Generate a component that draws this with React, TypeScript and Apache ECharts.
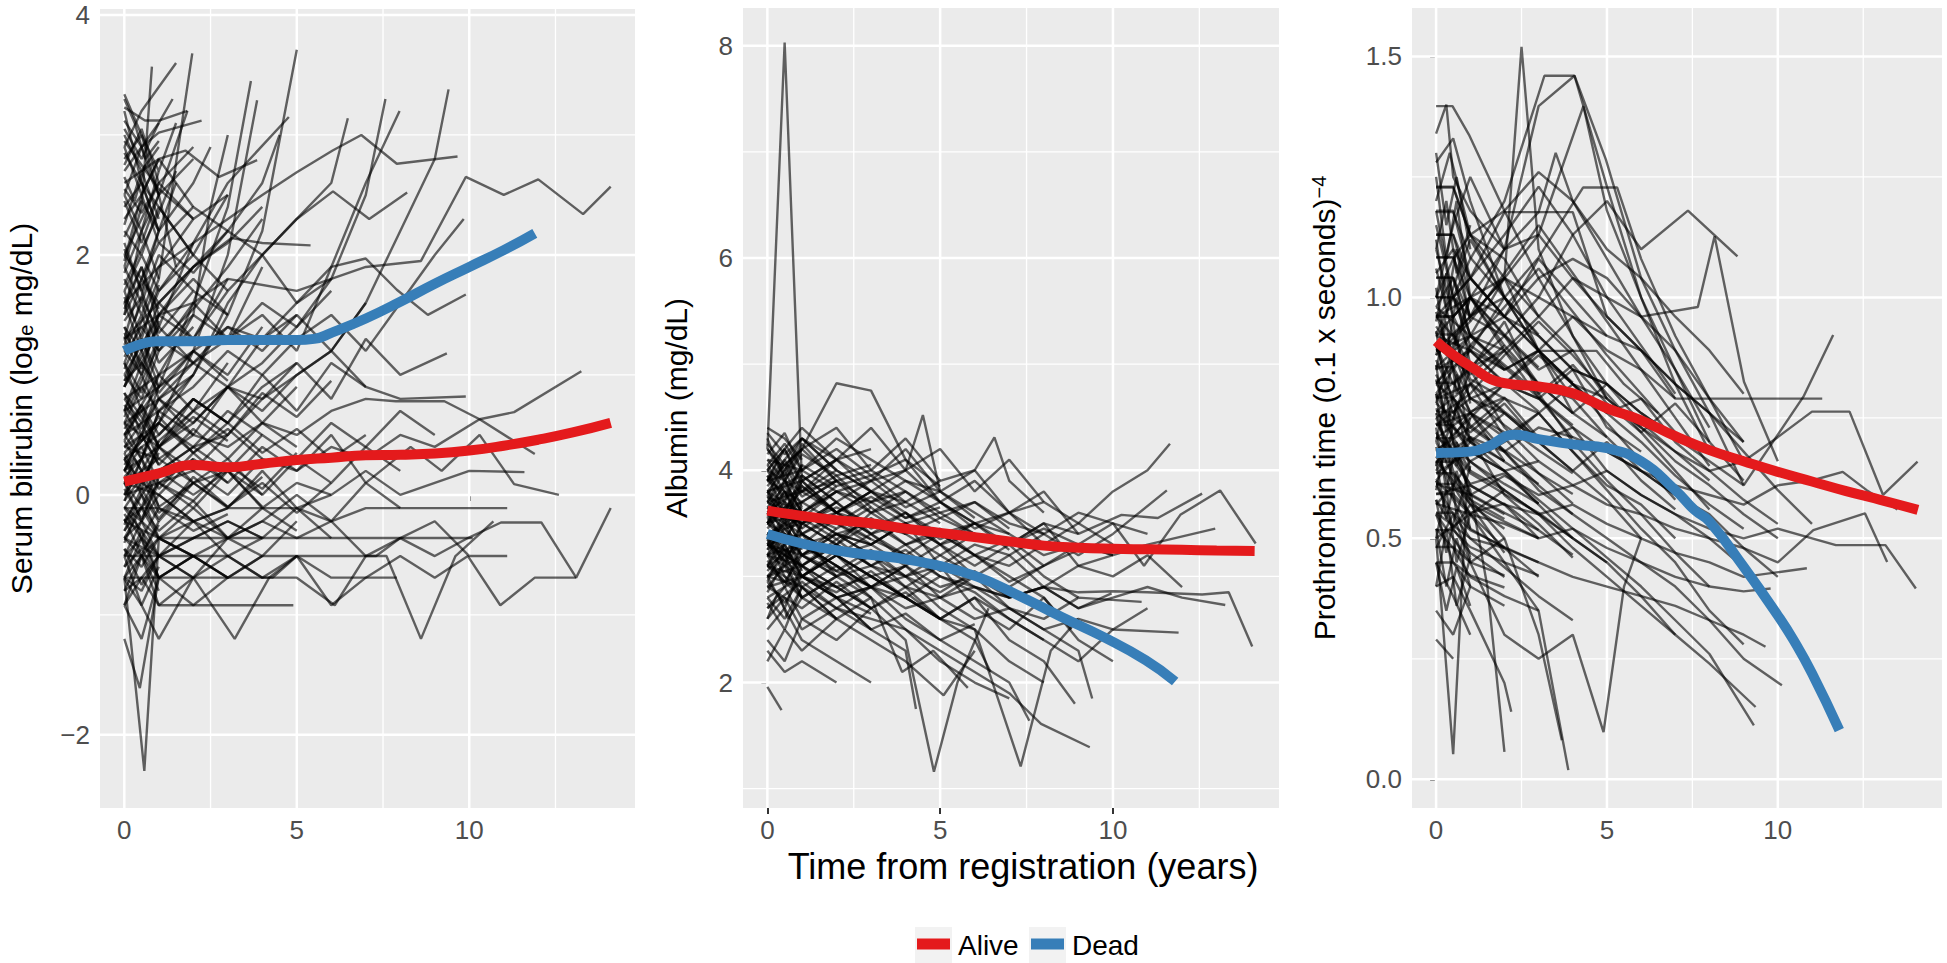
import React, { useEffect, useRef } from 'react';
import * as echarts from 'echarts';

// ---------- axes ----------
const X_MIN = -0.705;
const X_MAX = 14.805;
const X_TICKS = [0, 5, 10];
const X_MINOR = [2.5, 7.5, 12.5];

const BILI_RANGE = [-2.61, 4.05];
const BILI_TICKS = [-2, 0, 2, 4];
const BILI_MINOR = [-1, 1, 3];

const ALB_RANGE = [0.818, 8.355];
const ALB_TICKS = [2, 4, 6, 8];
const ALB_MINOR = [1, 3, 5, 7];

const PRO_RANGE = [-0.0596, 1.6006];
const PRO_TICKS = [0, 0.5, 1.0, 1.5];
const PRO_MINOR = [0.25, 0.75, 1.25];

const LEGEND_LABELS = ['Alive', 'Dead'];

// ---------- smoothed group curves [t, value] ----------
const BILI_ALIVE = [[0, 0.11], [1, 0.18], [2, 0.25], [3, 0.23], [4, 0.26], [5, 0.29], [6, 0.31], [7, 0.33], [8, 0.335], [9, 0.345], [10, 0.37], [11, 0.41], [12, 0.46], [13, 0.52], [14.1, 0.6]];
const BILI_DEAD = [[0, 1.2], [1, 1.28], [2, 1.28], [3, 1.29], [4, 1.29], [5, 1.29], [5.5, 1.3], [6, 1.35], [7, 1.47], [8, 1.61], [9, 1.76], [10, 1.9], [11, 2.04], [11.9, 2.18]];

const ALB_ALIVE = [[0, 3.62], [1, 3.57], [2, 3.53], [3, 3.5], [4, 3.45], [5, 3.41], [6, 3.37], [7, 3.33], [8, 3.29], [9, 3.27], [10, 3.26], [11, 3.255], [12, 3.25], [13, 3.245], [14.1, 3.24]];
const ALB_DEAD = [[0, 3.4], [1, 3.31], [1.76, 3.26], [2.5, 3.22], [3.6, 3.18], [4.82, 3.11], [6.05, 3.0], [7.27, 2.82], [8.5, 2.62], [9.72, 2.43], [10.95, 2.21], [11.8, 2.01]];

const PRO_ALIVE = [[0, 0.909], [1, 0.857], [2, 0.822], [3, 0.815], [4, 0.801], [5, 0.77], [6, 0.745], [7, 0.712], [8, 0.683], [9, 0.66], [10, 0.638], [11, 0.618], [12, 0.598], [13, 0.58], [14.1, 0.559]];
const PRO_DEAD = [[0, 0.677], [1, 0.68], [1.5, 0.69], [2.3, 0.715], [3, 0.706], [4, 0.695], [5, 0.687], [6, 0.66], [7, 0.6], [7.56, 0.559], [8, 0.535], [9, 0.441], [10, 0.34], [10.46, 0.289], [11, 0.22], [11.8, 0.102]];

// ---------- individual trajectories: flat [t0, v0, t1, v1, ...] ----------
const BILI_LINES = [
  [0, -0.69, 0.5, -0.69, 1, -0.69, 2, -0.69, 3, -0.69, 4.3, -0.69, 5, -0.51, 6, -0.92, 7, -0.69, 7.9, -0.69],
  [0, -0.36, 0.5, -0.51, 1, -0.36, 2, -0.36, 3, -0.36, 4, -0.36, 5, -0.36, 6, -0.36, 7, -0.36, 8, -0.36, 9, -0.36, 10.1, -0.36],
  [0, -0.51, 1, -0.51, 2, -0.51, 3, -0.69, 4, -0.51, 5, -0.51, 6, -0.51, 7.3, -0.51, 8, -0.36, 9, -0.22, 10, -0.51, 11.1, -0.51],
  [0, -0.11, 1, -0.11, 2, -0.22, 3, -0.11, 4, -0.11, 5, -0.11, 6, -0.22, 7, -0.11, 8, -0.11, 9, -0.11, 10, -0.11, 11.1, -0.11],
  [0, 0.1, 1, 0.0, 2, -0.22, 3, -0.36, 4, -0.22, 5, -0.36, 6, -0.22, 7, -0.51, 8, -0.36, 9, -0.51, 9.96, -0.36, 10.92, -0.23, 12.09, -0.23, 13.1, -0.69, 14.1, -0.11],
  [0, -0.22, 1, -0.36, 2, -0.51, 3, -0.51, 4, -0.69, 5, -0.51, 6, -0.69, 7, -0.69, 8, -0.51, 9, -0.69, 9.96, -0.51, 10.9, -0.92, 11.9, -0.69, 13.1, -0.69],
  [0, -0.51, 0.5, -0.92, 1, -1.2, 2, -0.69, 3.2, -1.2, 4.2, -0.69, 5, -0.51],
  [0, -0.36, 1, -0.51, 2, -0.69, 3, -0.51, 4, -0.69, 5, -0.69, 6.1, -0.92, 7, -0.51, 7.6, -0.51, 8.6, -1.2, 9.6, -0.51, 10.7, -0.22],
  [0, -1.2, 0.45, -1.61, 1, -0.69],
  [0, -0.69, 0.58, -2.3, 1, -0.36, 2, -0.51],
  [0, -0.92, 0.5, -0.51, 1, -0.92, 2, -0.92, 3, -0.92, 4.9, -0.92],
  [0, 0.4, 1, 0.3, 2, 0.5, 3, 0.4, 4, 0.6, 5, 0.5, 6, 0.7, 7, 0.8, 7.87, 0.78, 9.28, 0.78, 10.3, 0.63, 11.3, 0.69, 13.25, 1.03],
  [0, 0.0, 1, 0.1, 2, 0.2, 3, 0.0, 4, 0.3, 5, 0.2, 6, 0.4, 7, 0.3, 8, 0.5, 9, 0.4, 10.3, 0.63, 11.9, 0.34],
  [0, 0.2, 1, 0.0, 2, 0.3, 3, 0.1, 4, 0.4, 5, 0.2, 6, 0.5, 7, 0.1, 8.3, 0.4, 9.2, 0.2, 10.3, 0.5, 11.3, 0.09, 12.6, 0.0],
  [0, 0.1, 1, 0.3, 2, 0.1, 3, 0.2, 4, -0.11, 5, 0.1, 6, 0.0, 7, 0.2, 8, 0.0, 9, 0.1, 10, 0.2, 11.6, 0.19],
  [0, 0.5, 1, 0.9, 2, 1.6, 3, 2.4, 3.67, 3.45],
  [0, 0.3, 1, 0.6, 2, 1.2, 3, 2.0, 3.85, 3.29],
  [0, 0.9, 1, 1.4, 2, 2.1, 3, 2.6, 4.77, 3.15],
  [0, 1.1, 1, 1.8, 1.97, 3.68],
  [0, 1.9, 0.5, 2.4, 0.8, 3.57],
  [0, 1.5, 0.5, 2.2, 1, 2.5, 1.83, 3.2],
  [0, 0.6, 1, 0.8, 2, 1.0, 3, 1.5, 4, 2.2, 5, 3.71],
  [0, 0.2, 1, 0.4, 2, 0.6, 3, 0.9, 4, 1.1, 5, 1.4, 6, 1.8, 7, 2.5, 7.57, 3.3],
  [0, 0.7, 1, 0.9, 2, 1.1, 3, 1.3, 4, 1.5, 5, 1.2, 6, 1.9, 7, 2.6, 7.98, 3.2],
  [0, 0.1, 1, 0.2, 2, 0.4, 3, 0.5, 4, 0.8, 5, 1.0, 6, 1.2, 7, 1.6, 8, 2.2, 9, 2.8, 9.4, 3.38],
  [0, 0.4, 1, 0.6, 2, 1.0, 3, 1.6, 4, 2.0, 5, 2.3, 6, 2.6, 6.48, 3.14],
  [0, 1.6, 1, 1.9, 2, 2.1, 3, 2.3, 4, 2.5, 5, 2.69, 6.04, 2.87, 6.87, 3.0, 7.9, 2.76, 9.66, 2.82],
  [0, 1.3, 1, 1.5, 2, 1.6, 3, 1.8, 5, 1.7, 7, 1.9, 8.6, 1.95, 9.9, 2.65, 11, 2.5, 12, 2.63, 13.3, 2.34, 14.1, 2.57],
  [0, 3.34, 0.5, 3.0, 1, 2.5, 1.5, 1.9],
  [0, 3.23, 0.6, 3.12, 1.0, 3.12, 1.83, 3.2],
  [0, 3.12, 0.5, 2.9, 1.0, 3.02, 2.24, 3.12],
  [0, 2.85, 0.5, 2.6, 1, 2.4, 2, 2.0, 3, 1.7],
  [0, 2.6, 0.5, 2.7, 1, 2.8, 1.77, 2.87, 2.75, 2.65, 3.85, 2.79],
  [0, 1.0, 1, 1.5, 2, 1.9, 3.1, 2.14, 4, 2.1, 5.4, 2.08],
  [0, 1.3, 1, 1.6, 2, 1.9, 3, 2.2, 4, 2.0, 5, 2.3, 6.05, 2.53, 7.1, 2.3, 8.2, 2.52],
  [0, 0.8, 1, 1.0, 2, 1.2, 3, 1.4, 4, 1.3, 5, 1.6, 6, 1.9, 7, 1.97, 7.9, 1.71, 8.8, 1.5, 9.9, 1.67],
  [0, 0.5, 1, 0.7, 2, 0.9, 3, 1.2, 4, 1.0, 5, 1.3, 6, 1.5, 7, 1.2, 8, 1.6, 9, 2.0, 9.84, 2.3],
  [0, 0.3, 1, 0.5, 2, 0.8, 3, 0.6, 4, 0.9, 5, 1.1, 6, 0.8, 7, 1.3, 8, 1.0, 9.35, 1.18],
  [0, 0.6, 1, 0.4, 2, 0.7, 3, 0.9, 4, 0.7, 5, 1.0, 6, 1.2, 7, 0.9, 8, 0.8, 9.9, 0.82],
  [0, 2.4, 0.5, 2.6, 1, 2.2],
  [0, 2.0, 0.5, 2.3, 1, 2.6, 2, 2.9],
  [0, 1.8, 0.5, 1.5, 1, 1.9, 2, 2.3],
  [0, 1.6, 0.5, 1.9, 1, 1.4],
  [0, 1.4, 0.5, 1.2, 1, 1.6, 2, 1.3, 3, 1.8],
  [0, 1.2, 0.5, 1.5, 1, 1.1, 2, 1.4],
  [0, 1.0, 0.5, 0.8, 1, 1.2, 2, 1.6, 3, 1.3, 4, 1.9],
  [0, 0.9, 0.5, 1.3, 1, 0.9],
  [0, 0.8, 0.5, 0.6, 1, 1.0, 2, 0.7, 3, 1.1],
  [0, 0.6, 0.5, 0.9, 1, 0.7, 2, 1.0],
  [0, 0.5, 0.5, 0.3, 1, 0.6, 2, 0.4, 3, 0.7, 4, 0.5],
  [0, 0.4, 0.5, 0.6, 1, 0.3],
  [0, 0.3, 0.5, 0.1, 1, 0.4, 2, 0.2, 3, 0.5],
  [0, 0.2, 0.5, 0.4, 1, 0.1, 2, 0.3],
  [0, 0.1, 0.5, -0.1, 1, 0.2, 2, 0.0, 3, 0.2, 4, -0.1],
  [0, 0.0, 0.5, 0.2, 1, -0.1, 2, 0.1],
  [0, -0.1, 0.5, -0.22, 1, 0.0, 2, -0.22, 3, -0.11],
  [0, -0.22, 0.5, -0.11, 1, -0.36, 2, -0.22],
  [0, -0.36, 0.5, -0.22, 1, -0.51, 2, -0.36, 3, -0.22, 4, -0.36],
  [0, -0.51, 0.5, -0.36, 1, -0.69, 2, -0.51],
  [0, -0.69, 0.5, -0.51, 1, -0.69, 2, -0.92, 3, -0.69],
  [0, -0.92, 0.5, -0.69, 1, -0.51],
  [0, 2.7, 0.5, 2.9, 1, 2.5, 2, 2.8],
  [0, 3.0, 0.5, 2.7, 1, 2.9],
  [0, 2.2, 0.5, 2.0, 1, 2.4, 2, 2.0, 3, 2.5],
  [0, 1.7, 0.5, 2.0, 1, 1.7, 2, 2.1],
  [0, 2.5, 0.5, 2.2, 1, 2.7],
  [0, 1.3, 0.5, 1.0, 1, 1.5, 2, 1.8, 3, 1.5],
  [0, 0.7, 0.5, 1.1, 1, 1.4, 2, 1.1],
  [0, 0.0, 0.5, 0.3, 1, 0.7, 2, 0.5, 3, 0.9, 4, 0.6, 5, 0.9],
  [0, -0.11, 0.5, 0.1, 1, 0.4, 2, 0.8, 3, 0.6, 4, 1.0, 5, 0.7, 6, 1.1, 7, 0.9],
  [0, 0.2, 0.5, 0.5, 1, 0.8, 2, 1.1, 3, 0.9, 4, 1.3, 5, 1.5, 6, 1.2, 7, 1.6],
  [0, 0.9, 0.5, 1.2, 1, 1.5, 2, 1.3, 3, 1.7, 4, 2.0, 5, 1.6, 6, 1.8],
  [0, -0.22, 0.5, 0.0, 1, 0.2, 2, 0.4, 3, 0.2, 4, 0.5, 5, 0.3, 6, 0.6, 7, 0.4, 8, 0.7, 9, 0.5],
  [0, -0.36, 0.5, -0.11, 1, 0.1, 2, -0.11, 3, 0.2, 4, 0.0, 5, 0.3, 6, 0.1, 7, 0.4, 8, 0.2],
  [0, 0.3, 0.5, 0.0, 1, -0.22, 2, 0.1, 3, -0.11, 4, 0.2, 5, -0.11, 6, 0.0],
  [0, -0.51, 0.5, -0.22, 1, -0.36, 2, -0.11, 3, -0.36, 4, -0.22, 5, 0.0, 6, -0.22, 7, 0.1, 8, -0.11],
  [0, -0.69, 0.5, -0.36, 1, -0.51, 2, -0.22, 3, -0.51, 4, -0.36, 5, -0.11, 6, -0.36],
  [0, 1.1, 0.5, 0.7, 1, 0.4, 2, 0.1, 3, 0.3, 4, 0.0],
  [0, 1.6, 0.5, 1.2, 1, 0.8, 2, 0.5],
  [0, 2.1, 0.5, 1.7, 1, 1.3],
  [0, -0.92, 0.5, -1.2, 1, -0.69, 2, -0.51, 3, -0.69],
  [0, 2.9, 0.5, 3.2, 1, 3.4, 1.5, 3.6],
  [0, 0.5, 1, 1.0, 2, 1.5, 2.5, 2.4, 3, 3.0],
  [0, 2.3, 0.5, 2.5, 1, 2.1, 2, 2.4, 3, 2.2],
  [0, 1.9, 0.5, 1.6, 1, 2.0, 2, 1.7],
  [0, 1.5, 0.5, 1.8, 1, 1.6, 2, 1.9, 3, 2.1, 4, 2.4],
  [0, 1.2, 0.5, 1.0, 1, 1.3, 2, 1.1, 3, 1.4, 4, 1.2, 5, 1.5],
  [0, 0.95, 0.5, 1.1, 1, 0.85, 2, 1.2, 3, 1.0, 4, 1.4],
  [0, 0.75, 0.5, 0.55, 1, 0.8, 2, 0.6, 3, 0.9, 4, 0.8, 5, 1.1],
  [0, 0.55, 0.5, 0.75, 1, 0.5, 2, 0.8, 3, 0.6],
  [0, 0.35, 0.5, 0.5, 1, 0.25, 2, 0.55, 3, 0.3, 4, 0.6, 5, 0.4],
  [0, 0.15, 0.5, 0.3, 1, 0.05, 2, 0.35, 3, 0.1],
  [0, -0.05, 0.5, 0.15, 1, -0.15, 2, 0.1, 3, -0.1, 4, 0.15],
  [0, -0.16, 0.5, -0.36, 1, -0.11, 2, -0.3, 3, -0.16],
  [0, -0.3, 0.5, -0.1, 1, -0.3, 2, -0.05, 3, -0.36, 4, -0.11, 5, -0.3],
  [0, -0.45, 0.5, -0.6, 1, -0.36, 2, -0.51, 3, -0.36],
  [0, -0.6, 0.5, -0.45, 1, -0.69, 2, -0.51, 3, -0.69, 4, -0.51],
  [0, -0.8, 0.5, -0.69, 1, -0.92, 2, -0.69],
  [0, 2.8, 0.5, 3.0, 1, 2.7, 1.5, 3.1],
  [0, 2.55, 0.5, 2.35, 1, 2.6, 2, 2.3],
  [0, 2.15, 0.5, 2.45, 1, 2.2, 2, 2.6, 2.5, 2.9],
  [0, 1.75, 0.5, 2.05, 1, 2.35, 1.5, 2.7],
  [0, 1.45, 0.5, 1.65, 1, 1.35, 2, 1.7, 3, 1.5],
  [0, 1.05, 0.5, 1.35, 1, 1.7, 2, 2.0],
  [0, 0.65, 0.5, 0.95, 1, 1.25, 2, 1.55, 3, 1.9, 4, 2.3],
  [0, 0.45, 0.5, 0.2, 1, 0.45, 2, 0.7, 3, 0.5, 4, 0.85, 5, 0.65, 6, 0.95],
  [0, 0.05, 0.5, -0.2, 1, 0.1, 2, -0.05, 3, 0.25, 4, 0.05, 5, 0.35],
  [0, -0.25, 0.5, 0.05, 1, -0.2, 2, 0.15, 3, -0.1, 4, 0.1, 5, -0.15, 6, 0.1],
  [0, 3.05, 0.5, 2.8, 1, 3.1, 1.4, 3.3],
  [0, 2.95, 0.5, 2.75, 1, 2.55, 2, 2.3, 3, 2.5],
  [0, 1.35, 0.5, 1.1, 1, 0.9, 2, 1.2, 3, 0.95],
  [0, 0.85, 0.5, 0.65, 1, 0.4, 2, 0.65, 3, 0.45],
  [0, 0.25, 0.5, 0.45, 1, 0.65, 2, 0.35, 3, 0.55, 4, 0.3],
  [0, 2.0, 0.5, 1.8, 1, 2.1, 2, 1.85, 3, 2.2, 4, 2.6, 4.5, 3.0],
  [0, 1.15, 0.5, 1.4, 1, 1.2, 2, 1.5, 3, 1.3, 4, 1.6, 5, 1.4, 6, 1.7],
  [0, 0.7, 0.5, 0.45, 1, 0.6, 2, 0.35, 3, 0.6, 4, 0.35, 5, 0.55, 6, 0.3, 7, 0.5],
  [0, -0.69, 0.5, -0.8, 1, -0.51, 2, -0.69, 3, -0.36, 4, -0.51, 5, -0.22],
  [0, -0.11, 0.5, -0.3, 1, -0.51, 2, -0.36, 3, -0.22, 4, -0.36],
  [0, 3.3, 0.3, 3.1, 0.6, 2.8, 1, 2.95],
  [0, 0.1, 0.3, 0.3, 0.6, 0.15, 1, 0.35],
  [0, 1.65, 0.3, 1.45, 0.6, 1.75, 1, 1.55],
  [0, 2.65, 0.3, 2.45, 0.6, 2.75, 1, 2.5],
  [0, -0.4, 0.3, -0.2, 0.6, -0.45, 1, -0.25],
];

const BILI_LINES_EARLY = [
  [0, 3.2, 0.5, 2.6, 1, 2.2], [0, 2.75, 0.5, 3.05, 1, 2.6], [0, 2.45, 0.5, 2.1, 1, 2.5], [0, 2.25, 0.5, 2.7, 1, 2.3],
  [0, 2.05, 0.5, 1.7, 1, 2.2], [0, 1.85, 0.5, 2.2, 1, 1.8], [0, 1.7, 0.5, 1.3, 1, 1.75], [0, 1.55, 0.5, 1.9, 1, 1.5],
  [0, 1.4, 0.5, 1.05, 1, 1.45], [0, 1.25, 0.5, 1.6, 1, 1.2], [0, 1.1, 0.5, 0.85, 1, 1.3], [0, 0.95, 0.5, 1.3, 1, 1.0],
  [0, 0.85, 0.5, 0.5, 1, 0.9], [0, 0.7, 0.5, 1.0, 1, 0.65], [0, 0.6, 0.5, 0.3, 1, 0.7], [0, 0.45, 0.5, 0.75, 1, 0.4],
  [0, 0.35, 0.5, 0.05, 1, 0.45], [0, 0.2, 0.5, 0.5, 1, 0.25], [0, 0.1, 0.5, -0.22, 1, 0.15], [0, -0.05, 0.5, 0.3, 1, -0.1],
  [0, -0.2, 0.5, -0.5, 1, -0.22], [0, -0.3, 0.5, 0.0, 1, -0.36], [0, -0.45, 0.5, -0.75, 1, -0.5], [0, -0.6, 0.5, -0.3, 1, -0.69],
  [0, -0.7, 0.5, -0.92, 1, -0.6], [0, -0.8, 0.5, -0.5, 1, -0.8], [0, 2.9, 0.5, 2.5, 1, 2.8, 2, 2.4], [0, 2.5, 0.5, 2.9, 1, 3.1],
  [0, 1.95, 0.5, 2.5, 1, 2.8], [0, 1.3, 0.5, 1.8, 1, 2.2, 1.5, 2.6],
];

const ALB_LINES = [
  [0, 4.2, 0.5, 8.03, 1, 3.9, 2, 3.6, 3, 3.5],
  [0, 3.9, 1, 4.2, 2, 4.82, 3, 4.75, 4, 4.1, 5, 3.7, 6, 3.5],
  [0, 3.8, 1, 3.9, 2, 4.1, 3, 3.9, 4, 4.0, 4.5, 4.52, 5, 3.8, 6, 3.6, 7, 3.4],
  [0, 3.7, 1, 3.8, 2, 4.0, 3, 3.8, 4, 3.7, 5, 3.9, 6, 4.0, 6.57, 4.31, 7, 3.9, 8, 3.6],
  [0, 3.5, 1, 3.6, 2, 3.4, 3, 3.5, 4, 3.3, 5, 3.4, 6, 3.2, 7, 3.1, 8, 3.3, 9, 3.5, 10, 3.8, 11, 4.0, 11.65, 4.25],
  [0, 3.6, 1, 3.5, 2, 3.7, 3, 3.4, 4, 3.6, 5, 3.3, 6, 3.5, 7, 3.4, 8, 3.2, 9, 3.3, 10, 3.5, 10.9, 3.1, 11.95, 3.58, 13.1, 3.81, 14.13, 3.31],
  [0, 3.4, 1, 3.5, 2, 3.3, 3, 3.6, 4, 3.4, 5, 3.2, 6, 3.4, 7, 3.3, 8, 3.5, 9, 3.4, 10.25, 3.58, 11.3, 3.55, 12.58, 3.78],
  [0, 3.3, 1, 3.4, 2, 3.2, 3, 3.3, 4, 3.5, 5, 3.1, 6, 3.3, 7, 3.2, 8, 3.4, 9, 3.2, 10, 3.4, 11.56, 3.81],
  [0, 3.2, 1, 3.1, 2, 3.3, 3, 3.1, 4, 3.0, 5, 3.2, 6, 3.0, 7, 2.9, 8, 3.1, 9, 3.3, 10, 3.2, 11, 3.3, 12.96, 3.45],
  [0, 3.0, 1, 3.1, 2, 2.9, 3, 3.0, 4, 2.8, 5, 3.0, 6, 2.9, 7, 2.8, 8, 2.9, 9, 2.85, 10, 2.86, 11, 2.85, 12.58, 2.83, 13.35, 2.85, 14.03, 2.34],
  [0, 3.1, 1, 3.0, 2, 3.2, 3, 2.9, 4, 3.1, 5, 2.9, 6, 3.0, 7, 2.8, 8, 2.9, 9, 2.7, 10, 2.8, 11, 2.9, 12, 2.8, 13.25, 2.73],
  [0, 2.9, 1, 3.0, 2, 2.8, 3, 2.9, 4, 2.7, 5, 2.8, 6, 2.6, 7, 2.7, 8, 2.5, 9, 2.6, 10, 2.5, 11.9, 2.47],
  [0, 3.3, 1, 3.2, 2, 3.0, 3, 3.1, 4, 2.9, 5, 2.8, 6, 2.9, 7, 2.7, 8, 2.6, 9, 2.8, 10.83, 2.76],
  [0, 3.5, 1, 3.3, 2, 3.4, 3, 3.2, 4, 3.0, 5, 3.1, 6, 2.9, 7, 2.8, 8, 2.9, 9, 2.7, 9.96, 2.84],
  [0, 3.2, 1, 3.0, 2, 2.9, 3, 2.7, 4, 2.4, 4.82, 1.16, 5.5, 2.0, 6.4, 2.7],
  [0, 3.4, 1, 3.3, 2, 3.1, 3, 2.9, 4, 2.8, 5, 2.6, 6, 2.5, 7.33, 1.21, 8.2, 2.3, 9, 2.6],
  [0, 3.0, 1, 2.9, 2, 2.7, 3, 2.6, 4, 2.5, 5, 2.3, 6, 2.1, 7, 1.9, 7.92, 1.61, 9.33, 1.39],
  [0, 3.6, 1, 3.4, 2, 3.2, 3, 3.0, 4, 2.8, 5, 2.6, 6, 2.4, 6.46, 2.1],
  [0, 3.1, 1, 2.8, 2, 2.6, 3, 2.4, 4, 2.2, 5.1, 1.88, 6, 2.3],
  [0, 3.3, 1, 3.1, 2, 2.8, 3, 2.9, 4, 2.6, 5, 2.4, 6, 2.2, 7, 2.0, 7.58, 1.64],
  [0, 1.96, 0.41, 1.74],
  [0, 2.2, 0.5, 2.5, 1, 2.3, 2, 2.6],
  [0, 2.4, 0.5, 2.2, 1, 2.6, 2, 2.4, 3, 2.7],
  [0, 2.6, 0.5, 2.8, 1, 2.5, 2, 2.7, 3, 2.9],
  [0, 2.8, 0.5, 2.6, 1, 2.9, 2, 2.6],
  [0, 3.0, 0.5, 3.2, 1, 2.9, 2, 3.1, 3, 2.8],
  [0, 3.2, 0.5, 3.4, 1, 3.1, 2, 3.3],
  [0, 3.4, 0.5, 3.2, 1, 3.5, 2, 3.3, 3, 3.5],
  [0, 3.6, 0.5, 3.8, 1, 3.5, 2, 3.7],
  [0, 3.8, 0.5, 3.6, 1, 3.9, 2, 3.6, 3, 3.8],
  [0, 4.0, 0.5, 4.2, 1, 3.9, 2, 4.1],
  [0, 4.2, 0.5, 4.0, 1, 4.3, 2, 4.0, 3, 3.8],
  [0, 4.4, 0.5, 4.3, 1, 4.1],
  [0, 3.9, 0.5, 4.1, 1, 3.8, 2, 3.9, 3, 3.7, 4, 3.8],
  [0, 3.7, 0.5, 3.9, 1, 3.6, 2, 3.8, 3, 3.6, 4, 3.7, 5, 3.5],
  [0, 3.5, 0.5, 3.7, 1, 3.4, 2, 3.6, 3, 3.4, 4, 3.5],
  [0, 3.3, 0.5, 3.5, 1, 3.2, 2, 3.4, 3, 3.2],
  [0, 3.1, 0.5, 3.3, 1, 3.0, 2, 3.2, 3, 3.0, 4, 3.1],
  [0, 2.9, 0.5, 3.1, 1, 2.8, 2, 3.0],
  [0, 2.7, 0.5, 2.9, 1, 2.6, 2, 2.8, 3, 2.5],
  [0, 2.5, 0.5, 2.7, 1, 2.4, 2, 2.2, 3, 2.0],
  [0, 2.3, 0.5, 2.1, 1, 2.2, 2, 2.0],
  [0, 3.6, 1, 3.7, 2, 3.9, 3, 4.0, 4, 3.8, 5, 3.6, 6, 3.7, 7, 3.5, 8, 3.4, 9, 3.6, 10, 3.5, 11, 3.4],
  [0, 3.8, 1, 3.6, 2, 3.8, 3, 3.7, 4, 3.9, 5, 3.7, 6, 3.5, 7, 3.6, 8, 3.7, 9, 3.5, 10, 3.3],
  [0, 3.5, 1, 3.7, 2, 3.5, 3, 3.7, 4, 3.5, 5, 3.6, 6, 3.4, 7, 3.3, 8, 3.5, 9, 3.1, 10, 3.2],
  [0, 3.4, 1, 3.6, 2, 3.5, 3, 3.3, 4, 3.5, 5, 3.3, 6, 3.1, 7, 3.3, 8, 3.0, 9, 2.8],
  [0, 3.7, 1, 3.5, 2, 3.6, 3, 3.4, 4, 3.2, 5, 3.4, 6, 3.2, 7, 3.0, 8, 2.8, 8.8, 2.5],
  [0, 4.0, 1, 3.8, 2, 3.6, 3, 3.8, 4, 3.6, 5, 3.4, 6, 3.5, 7, 3.3],
  [0, 3.9, 1, 4.0, 2, 3.8, 3, 3.9, 4, 4.2, 5, 3.8, 6, 4.0, 7, 3.6, 8, 3.4],
  [0, 3.2, 1, 3.3, 2, 3.1, 3, 2.9, 4, 3.0, 5, 2.7, 6, 2.5, 7, 2.2, 8, 2.0],
  [0, 3.3, 1, 3.0, 2, 2.8, 3, 2.5, 4, 2.3, 4.3, 1.75],
  [0, 3.5, 1, 3.2, 2, 3.0, 3, 2.8, 3.9, 2.1, 4.8, 2.3, 5.8, 1.95],
  [0, 3.1, 1, 2.9, 2, 2.6, 3, 2.8, 4, 2.5, 5, 2.2, 6, 2.0, 7, 1.85],
  [0, 3.4, 1, 3.1, 2, 2.9, 3, 2.7, 4, 2.9, 5, 2.6, 6, 2.8, 7, 2.4, 8, 2.2, 8.9, 1.8],
  [0, 3.6, 1, 3.3, 2, 3.1, 3, 2.9, 4, 3.1, 5, 2.8, 6, 3.0, 7, 2.7, 8, 2.5, 9, 2.3, 9.4, 1.85],
  [0, 3.2, 1, 3.4, 2, 3.0, 3, 3.2, 4, 2.9, 5, 3.1, 6, 2.7, 7, 2.5, 8, 2.8, 9, 2.4, 10, 2.2],
  [0, 3.0, 1, 3.2, 2, 3.4, 3, 3.3, 4, 3.1, 5, 3.3, 6, 3.0, 7, 3.2, 8, 2.9, 9, 3.1, 10, 3.0, 11, 3.2, 12, 2.9],
  [0, 2.8, 1, 3.0, 2, 3.2, 3, 3.0, 4, 2.8, 5, 2.6, 6, 2.8, 7, 2.6, 8, 2.4, 9, 2.2, 10, 2.5, 11, 2.7],
  [0, 4.1, 1, 4.0, 2, 4.3, 3, 4.1, 4, 3.9, 5, 3.8],
  [0, 3.8, 0.5, 4.0, 1, 4.2, 2, 4.4, 3, 4.0, 4, 4.3, 5, 3.9],
  [0, 4.0, 1, 4.4, 2, 4.1, 3, 4.4, 4, 4.0, 5, 4.2, 6, 3.8, 7, 4.1, 8, 3.7],
  [0, 3.5, 1, 3.8, 2, 4.1, 3, 3.8, 4, 4.0, 5, 3.7, 6, 3.9, 7, 3.6, 8, 3.8, 9, 3.4],
  [0, 3.95, 0.5, 3.75, 1, 4.05, 2, 3.85, 3, 3.95, 4, 3.7],
  [0, 3.85, 0.5, 4.05, 1, 3.75, 2, 3.95, 3, 3.65],
  [0, 3.75, 0.5, 3.55, 1, 3.85, 2, 3.6, 3, 3.75, 4, 3.55, 5, 3.65],
  [0, 3.65, 0.5, 3.85, 1, 3.6, 2, 3.45, 3, 3.65, 4, 3.4],
  [0, 3.55, 0.5, 3.35, 1, 3.6, 2, 3.4, 3, 3.3, 4, 3.5, 5, 3.3, 6, 3.4],
  [0, 3.45, 0.5, 3.65, 1, 3.4, 2, 3.55, 3, 3.35],
  [0, 3.35, 0.5, 3.15, 1, 3.4, 2, 3.2, 3, 3.4, 4, 3.15],
  [0, 3.25, 0.5, 3.45, 1, 3.2, 2, 3.3, 3, 3.1, 4, 3.25, 5, 3.0],
  [0, 3.15, 0.5, 2.95, 1, 3.2, 2, 3.05, 3, 2.9],
  [0, 3.05, 0.5, 3.25, 1, 3.0, 2, 2.85, 3, 3.05, 4, 2.8],
  [0, 2.95, 0.5, 2.75, 1, 3.0, 2, 2.8, 3, 2.65],
  [0, 4.1, 0.5, 3.9, 1, 4.15, 2, 3.95, 3, 4.05],
  [0, 4.25, 0.5, 4.05, 1, 4.2, 2, 3.9],
  [0, 4.05, 0.5, 4.25, 1, 4.0, 2, 4.2, 3, 3.95, 4, 4.1, 5, 3.85],
  [0, 3.9, 1, 3.7, 2, 3.9, 3, 3.6, 4, 3.8, 5, 3.55, 6, 3.7, 7, 3.45],
  [0, 3.6, 1, 3.85, 2, 3.6, 3, 3.8, 4, 3.55, 5, 3.7, 6, 3.45, 7, 3.6, 8, 3.3],
  [0, 3.4, 1, 3.55, 2, 3.35, 3, 3.55, 4, 3.3, 5, 3.45, 6, 3.2, 7, 3.35, 8, 3.1, 9, 3.25],
  [0, 3.7, 1, 3.45, 2, 3.7, 3, 3.45, 4, 3.6, 5, 3.35, 6, 3.5, 7, 3.25],
  [0, 3.8, 1, 3.95, 2, 3.7, 3, 3.9, 4, 3.65, 5, 3.8, 6, 3.55],
  [0, 3.3, 1, 3.1, 2, 3.35, 3, 3.1, 4, 3.3, 5, 3.05, 6, 3.2, 7, 2.95, 8, 3.1],
  [0, 3.1, 1, 3.3, 2, 3.05, 3, 3.25, 4, 3.0, 5, 2.85, 6, 3.05, 7, 2.8],
  [0, 2.9, 1, 2.7, 2, 2.95, 3, 2.7, 4, 2.85, 5, 2.6],
  [0, 2.7, 1, 2.95, 2, 2.7, 3, 2.5, 4, 2.65, 5, 2.4, 6, 2.55],
  [0, 4.35, 0.5, 4.15, 1, 4.3, 2, 4.1, 3, 4.2],
  [0, 3.5, 0.3, 3.7, 0.6, 3.45, 1, 3.65],
  [0, 3.9, 0.3, 4.1, 0.6, 3.85, 1, 4.0],
  [0, 3.2, 0.3, 3.4, 0.6, 3.15, 1, 3.35],
  [0, 2.6, 0.3, 2.85, 0.6, 2.6, 1, 2.8],
  [0, 3.75, 1, 3.6, 2, 3.5, 3, 3.35, 4, 3.2, 5, 3.0, 6, 2.85, 7, 2.6, 8, 2.4],
  [0, 3.65, 1, 3.5, 2, 3.65, 3, 3.5, 4, 3.4, 5, 3.55, 6, 3.4, 7, 3.3, 8, 3.45, 9, 3.3, 10, 3.2],
];

const ALB_LINES_EARLY = [
  [0, 4.3, 0.5, 3.9, 1, 4.2], [0, 4.15, 0.5, 4.35, 1, 4.0], [0, 4.0, 0.5, 3.7, 1, 4.05], [0, 3.9, 0.5, 4.2, 1, 3.85],
  [0, 3.8, 0.5, 3.5, 1, 3.9], [0, 3.7, 0.5, 4.0, 1, 3.65], [0, 3.6, 0.5, 3.3, 1, 3.7], [0, 3.5, 0.5, 3.8, 1, 3.45],
  [0, 3.4, 0.5, 3.1, 1, 3.5], [0, 3.3, 0.5, 3.6, 1, 3.25], [0, 3.2, 0.5, 2.9, 1, 3.3], [0, 3.1, 0.5, 3.4, 1, 3.05],
  [0, 3.0, 0.5, 2.7, 1, 3.1], [0, 2.85, 0.5, 3.15, 1, 2.8], [0, 2.75, 0.5, 2.5, 1, 2.9], [0, 4.2, 0.5, 3.95, 1, 4.25, 2, 3.9],
  [0, 3.95, 0.5, 3.6, 1, 3.95, 2, 3.7], [0, 3.55, 0.5, 3.9, 1, 3.6, 2, 3.85], [0, 3.25, 0.5, 3.55, 1, 3.3, 2, 3.55],
  [0, 2.95, 0.5, 3.3, 1, 3.0, 2, 3.25], [0, 3.35, 0.5, 3.0, 1, 2.8, 2, 3.0], [0, 3.65, 0.5, 3.4, 1, 3.2, 2, 3.45],
  [0, 4.05, 0.5, 3.8, 1, 3.55, 2, 3.8], [0, 3.75, 0.5, 4.1, 1, 4.3, 2, 4.0],
];

const PRO_LINES = [
  [0, 1.397, 0.48, 1.397, 0.96, 1.338, 2, 1.18, 3, 1.04, 4, 0.92, 5, 0.79],
  [0, 1.28, 0.5, 1.33, 1, 1.2, 2, 1.0, 3, 0.89, 4, 0.76],
  [0, 1.23, 0.5, 1.23, 1, 1.13, 2, 1.08, 3, 0.96],
  [0, 1.18, 0.5, 1.18, 1, 1.04, 2, 1.177, 3, 1.177, 4, 1.177, 5, 0.96, 6, 0.89, 7, 0.79],
  [0, 1.13, 0.5, 1.13, 1, 1.0, 2, 0.96, 3, 1.08, 4, 1.0, 5, 0.92],
  [0, 1.083, 0.5, 1.083, 1, 0.96, 2, 1.04, 3, 0.89],
  [0, 1.041, 0.5, 1.041, 1, 0.92, 2, 0.89, 3, 0.82, 4, 0.76, 5, 0.71],
  [0, 1.0, 0.5, 1.0, 1, 1.04, 2, 0.96, 3, 0.92, 4, 0.85, 5, 0.82, 6, 0.76, 7, 0.71, 8, 0.68],
  [0, 0.961, 0.5, 0.92, 1, 0.96, 2, 1.04, 2.5, 1.52, 3, 1.1, 4, 0.92, 5, 0.82],
  [0, 0.924, 0.5, 1.0, 1, 1.08, 2, 1.2, 3.17, 1.46, 4.05, 1.46, 5, 1.23, 6, 1.0, 7, 0.85, 8, 0.7],
  [0, 0.889, 1, 0.96, 2, 1.1, 3, 1.397, 4.05, 1.46, 4.97, 1.286, 6, 1.04, 7, 0.89, 8, 0.76, 9, 0.61],
  [0, 0.855, 1, 0.92, 2, 1.04, 3, 1.13, 4.31, 1.397, 5, 1.18, 6, 1.0, 7, 0.82, 8, 0.68],
  [0, 0.823, 1, 0.889, 2, 1.0, 3, 1.083, 4.3, 1.228, 5.3, 1.228, 6, 1.08, 7, 0.92, 8, 0.79, 9, 0.66],
  [0, 0.792, 1, 0.855, 2, 0.92, 3, 1.0, 4, 1.13, 5, 1.2, 6, 1.1, 7.37, 1.18, 8.82, 1.085],
  [0, 0.763, 1, 0.82, 2, 0.89, 3, 0.96, 4, 1.04, 5, 1.0, 6, 0.96, 7.66, 0.98, 8.15, 1.127, 9.01, 0.825, 10, 0.66],
  [0, 0.735, 1, 0.79, 2, 0.82, 3, 0.89, 4, 0.96, 5, 0.89, 6, 0.85, 7, 0.79, 8, 0.79, 9, 0.79, 10, 0.79, 11.3, 0.79],
  [0, 0.708, 1, 0.76, 2, 0.82, 3, 0.79, 4, 0.85, 5, 0.82, 6, 0.76, 7, 0.71, 8, 0.66, 9, 0.61, 10.75, 0.794, 11.62, 0.922],
  [0, 0.683, 1, 0.73, 2, 0.79, 3, 0.76, 4, 0.82, 5, 0.79, 6, 0.73, 7, 0.68, 8, 0.64, 9, 0.66, 10, 0.71, 11, 0.763, 12.1, 0.763, 13.08, 0.59, 14.09, 0.659],
  [0, 0.659, 1, 0.71, 2, 0.68, 3, 0.73, 4, 0.71, 5, 0.68, 6, 0.64, 7, 0.61, 8, 0.59, 9, 0.57, 10, 0.61, 11, 0.62, 11.9, 0.638, 12.6, 0.6, 13.5, 0.56],
  [0, 0.635, 1, 0.68, 2, 0.64, 3, 0.66, 4, 0.61, 5, 0.64, 6, 0.59, 7, 0.55, 8, 0.52, 9, 0.5, 10, 0.52, 11.7, 0.486, 13.15, 0.486, 14.04, 0.396],
  [0, 0.613, 1, 0.59, 2, 0.63, 3, 0.59, 4, 0.61, 5, 0.57, 6, 0.55, 7, 0.52, 8, 0.5, 9, 0.48, 10, 0.45, 11.04, 0.517, 12.55, 0.552, 13.2, 0.451],
  [0, 0.592, 1, 0.61, 2, 0.57, 3, 0.55, 4, 0.57, 5, 0.53, 6, 0.5, 7, 0.47, 8, 0.45, 9, 0.42, 10.85, 0.438],
  [0, 0.572, 1, 0.55, 2, 0.53, 3, 0.5, 4, 0.52, 5, 0.48, 6, 0.45, 7, 0.42, 8, 0.4, 9, 0.39, 9.79, 0.396],
  [0, 0.553, 1, 0.5, 2, 0.48, 3, 0.45, 4, 0.42, 5, 0.4, 6, 0.38, 7, 0.36, 8, 0.33, 9, 0.3, 9.64, 0.275],
  [0, 0.82, 1, 0.76, 2, 0.68, 3, 0.6, 4, 0.55, 5, 0.5, 6, 0.45, 7, 0.4, 8, 0.33, 9, 0.25, 10.12, 0.195],
  [0, 0.76, 1, 0.7, 2, 0.64, 3, 0.58, 4, 0.52, 5, 0.46, 6, 0.4, 7, 0.33, 8, 0.26, 9.3, 0.112],
  [0, 0.71, 1, 0.66, 2, 0.6, 3, 0.55, 4, 0.48, 5, 0.42, 6, 0.36, 7, 0.3, 8, 0.24, 9.35, 0.15],
  [0, 0.5, 0.5, 0.052, 0.9, 0.6],
  [0, 0.75, 1, 0.6, 1.5, 0.4, 2.0, 0.057],
  [0, 0.62, 1, 0.55, 2, 0.45, 3, 0.35, 3.87, 0.019],
  [0, 0.66, 1, 0.58, 2, 0.5, 3, 0.3, 3.68, 0.081],
  [0, 0.55, 1, 0.45, 2, 0.3, 3, 0.25, 4, 0.3, 4.9, 0.098, 5.5, 0.4, 6, 0.5],
  [0, 0.45, 0.5, 0.38, 1, 0.3],
  [0, 0.35, 0.5, 0.3, 1, 0.4],
  [0, 0.4, 0.5, 0.42, 1, 0.35, 2, 0.2, 2.2, 0.14],
  [0, 0.29, 0.5, 0.25],
  [0, 1.1, 0.5, 0.96, 1, 1.0, 2, 0.89],
  [0, 0.98, 0.5, 1.04, 1, 0.92],
  [0, 0.94, 0.5, 0.89, 1, 0.79, 2, 0.76],
  [0, 0.9, 0.5, 0.82, 1, 0.85, 2, 0.73, 3, 0.66],
  [0, 0.87, 0.5, 0.79, 1, 0.73, 2, 0.68, 3, 0.61, 4, 0.55],
  [0, 0.84, 0.5, 0.76, 1, 0.82, 2, 0.71],
  [0, 0.8, 0.5, 0.73, 1, 0.68, 2, 0.64, 3, 0.57, 4, 0.5, 5, 0.45],
  [0, 0.77, 0.5, 0.71, 1, 0.76, 2, 0.66],
  [0, 0.74, 0.5, 0.68, 1, 0.61, 2, 0.57, 3, 0.5],
  [0, 0.72, 0.5, 0.66, 1, 0.71, 2, 0.59, 3, 0.53, 4, 0.46],
  [0, 0.7, 0.5, 0.63, 1, 0.57, 2, 0.52],
  [0, 0.67, 0.5, 0.61, 1, 0.55, 2, 0.48, 3, 0.42],
  [0, 0.64, 0.5, 0.7, 1, 0.59, 2, 0.55],
  [0, 0.61, 0.5, 0.55, 1, 0.5, 2, 0.44, 3, 0.38, 4, 0.33],
  [0, 0.58, 0.5, 0.52, 1, 0.57, 2, 0.47],
  [0, 0.52, 0.5, 0.48, 1, 0.42, 2, 0.38, 3, 0.35],
  [0, 0.48, 0.5, 0.55, 1, 0.45, 2, 0.5],
  [0, 1.2, 0.4, 1.3, 1, 1.13, 2, 1.0, 3, 0.92, 4, 0.85, 5, 0.73, 6, 0.68],
  [0, 1.15, 0.5, 1.0, 1, 0.96, 2, 0.92, 3, 0.82, 4, 0.79, 5, 0.71, 6, 0.64, 7, 0.59],
  [0, 1.05, 0.5, 1.1, 1, 1.04, 2, 0.96, 3, 0.89, 4, 0.82, 5, 0.76, 6, 0.7, 7, 0.63, 8, 0.57, 9, 0.52],
  [0, 0.96, 1, 1.0, 2, 0.92, 3, 0.85, 4, 0.89, 5, 0.79, 6, 0.73, 7, 0.66, 8, 0.61, 9, 0.55, 10, 0.5],
  [0, 0.89, 1, 0.92, 2, 0.85, 3, 0.89, 4, 0.82, 5, 0.76, 6, 0.79, 7, 0.7, 8, 0.64, 9, 0.58, 10, 0.53],
  [0, 0.85, 1, 0.89, 2, 0.82, 3, 0.79, 4, 0.73, 5, 0.68, 6, 0.64, 7, 0.59, 8, 0.55, 9, 0.48, 10, 0.42],
  [0, 0.79, 1, 0.82, 2, 0.76, 3, 0.7, 4, 0.73, 5, 0.64, 6, 0.59, 7, 0.55, 8, 0.5, 9, 0.44],
  [0, 0.735, 1, 0.76, 2, 0.71, 3, 0.76, 4, 0.68, 5, 0.61, 6, 0.57, 7, 0.5],
  [0, 1.34, 0.3, 1.4, 0.5, 1.25, 1, 1.18, 2, 1.1, 3, 1.13, 4, 1.04, 5, 0.96, 6, 0.89, 7, 0.82, 8, 0.76, 9, 0.7],
  [0, 1.0, 0.5, 1.08, 1, 1.13, 2, 1.18, 3, 1.26, 4, 1.2, 5, 1.08, 6, 0.96, 7, 0.85, 8, 0.73],
  [0, 0.96, 0.5, 0.96, 1, 1.0, 2, 1.1, 3, 1.177, 3.5, 1.3, 4, 1.2, 5, 1.1, 6, 1.04, 7, 0.96, 8, 0.89, 9, 0.8],
  [0, 0.92, 1, 1.0, 2, 1.04, 3, 1.0, 4, 0.96, 5, 0.92, 6, 0.89, 7, 0.82, 8, 0.76, 9, 0.68, 10, 0.6, 11, 0.53],
  [0, 0.82, 1, 0.92, 2, 0.96, 3, 1.04, 4, 1.08, 5, 1.04, 6, 0.96, 7, 0.89, 8, 0.79, 9, 0.7],
  [0, 0.92, 1, 0.89, 2, 0.85, 3, 0.889, 4.7, 0.889, 5.5, 0.82, 6.5, 0.76],
  [0, 0.65, 0.5, 0.75, 1, 0.85, 2, 0.95, 3, 0.8, 4, 0.7, 5, 0.62, 6, 0.55, 7, 0.47, 8, 0.4],
  [0, 0.57, 0.5, 0.61, 1, 0.66, 2, 0.7, 3, 0.76, 4, 0.68, 5, 0.6, 6, 0.52, 7, 0.45, 8, 0.35, 9, 0.28],
  [0, 0.5, 1, 0.55, 2, 0.6, 3, 0.55, 4, 0.5, 5, 0.45, 6, 0.38, 7, 0.3],
  [0, 1.177, 0.5, 1.177, 1, 1.083, 2, 1.0, 3, 0.923],
  [0, 1.13, 0.5, 1.13, 1, 1.041, 2, 0.961, 3, 0.889, 4, 0.823],
  [0, 1.083, 0.5, 1.083, 1, 1.0, 2, 0.923, 3, 0.855],
  [0, 1.041, 0.5, 1.041, 1, 0.961, 2, 1.0, 3, 0.889, 4, 0.792],
  [0, 1.0, 0.5, 1.0, 1, 0.923, 2, 0.855, 3, 0.792, 4, 0.735],
  [0, 0.961, 0.5, 0.961, 1, 0.889, 2, 0.823, 3, 0.763],
  [0, 0.923, 0.5, 0.923, 1, 0.855, 2, 0.889, 3, 0.792, 4, 0.708],
  [0, 0.889, 0.5, 0.889, 1, 0.823, 2, 0.763, 3, 0.708],
  [0, 0.855, 0.5, 0.855, 1, 0.792, 2, 0.735, 3, 0.683, 4, 0.635],
  [0, 0.823, 0.5, 0.823, 1, 0.763, 2, 0.792, 3, 0.708],
  [0, 0.792, 0.5, 0.792, 1, 0.735, 2, 0.683, 3, 0.635, 4, 0.592],
  [0, 0.763, 0.5, 0.763, 1, 0.708, 2, 0.659, 3, 0.613],
  [0, 0.735, 0.5, 0.735, 1, 0.683, 2, 0.708, 3, 0.635, 4, 0.572],
  [0, 0.708, 0.5, 0.708, 1, 0.659, 2, 0.613, 3, 0.572],
  [0, 0.683, 0.5, 0.683, 1, 0.635, 2, 0.592, 3, 0.553, 4, 0.5],
  [0, 0.659, 0.5, 0.659, 1, 0.613, 2, 0.635, 3, 0.572],
  [0, 0.635, 0.5, 0.635, 1, 0.592, 2, 0.553, 3, 0.517, 4, 0.466],
  [0, 0.613, 0.5, 0.613, 1, 0.572, 2, 0.535, 3, 0.5],
  [0, 0.592, 0.5, 0.592, 1, 0.553, 2, 0.572, 3, 0.517],
  [0, 0.553, 0.5, 0.553, 1, 0.517, 2, 0.482, 3, 0.45],
  [0, 0.517, 0.5, 0.517, 1, 0.482, 2, 0.45, 3, 0.423],
  [0, 0.482, 0.5, 0.482, 1, 0.45, 2, 0.423],
  [0, 0.45, 0.5, 0.45, 1, 0.423, 2, 0.398],
  [0, 1.228, 0.5, 1.228, 1, 1.13, 2, 1.041, 3, 0.961, 4, 0.889],
  [0, 0.96, 1, 1.04, 2, 1.13, 3, 1.23, 4, 1.13, 5, 1.0, 6, 0.9, 7, 0.8],
  [0, 0.88, 1, 0.95, 2, 1.05, 3, 1.15, 4, 1.05, 5, 0.95, 6, 0.85, 7, 0.75, 8, 0.65],
  [0, 0.8, 1, 0.9, 2, 0.98, 3, 1.06, 4, 0.97, 5, 0.88, 6, 0.8, 7, 0.72],
  [0, 0.75, 1, 0.8, 2, 0.88, 3, 0.95, 4, 0.88, 5, 0.8, 6, 0.72, 7, 0.64, 8, 0.56],
  [0, 0.68, 1, 0.75, 2, 0.82, 3, 0.88, 4, 0.82, 5, 0.74, 6, 0.66, 7, 0.58],
  [0, 0.62, 1, 0.7, 2, 0.76, 3, 0.7, 4, 0.64, 5, 0.58, 6, 0.5],
  [0, 1.1, 0.3, 1.2, 0.6, 1.05, 1, 1.15],
  [0, 0.95, 0.3, 1.05, 0.6, 0.9, 1, 1.0],
  [0, 0.85, 0.3, 0.95, 0.6, 0.8, 1, 0.9],
  [0, 0.7, 0.3, 0.8, 0.6, 0.65, 1, 0.75],
  [0, 0.6, 0.3, 0.7, 0.6, 0.55, 1, 0.65],
  [0, 0.5, 0.3, 0.6, 0.6, 0.45, 1, 0.55],
  [0, 0.4, 0.3, 0.52, 0.6, 0.36, 1, 0.46],
  [0, 0.98, 1, 0.92, 2, 0.86, 3, 0.8, 4, 0.86, 5, 0.78, 6, 0.72, 7, 0.78, 8, 0.7, 9, 0.62],
  [0, 0.9, 1, 0.84, 2, 0.9, 3, 0.82, 4, 0.76, 5, 0.82, 6, 0.74, 7, 0.68, 8, 0.62],
  [0, 0.78, 1, 0.72, 2, 0.78, 3, 0.7, 4, 0.64, 5, 0.7, 6, 0.62, 7, 0.56],
];

const PRO_LINES_EARLY = [
  [0, 1.3, 0.3, 1.15, 0.6, 1.25, 1, 1.1], [0, 1.25, 0.3, 1.08, 0.6, 1.2, 1, 1.0], [0, 1.12, 0.3, 0.98, 0.6, 1.1, 1, 0.95],
  [0, 1.02, 0.3, 0.88, 0.6, 1.0, 1, 0.86], [0, 0.93, 0.3, 0.8, 0.6, 0.92, 1, 0.78], [0, 0.86, 0.3, 0.72, 0.6, 0.84, 1, 0.7],
  [0, 0.8, 0.3, 0.66, 0.6, 0.78, 1, 0.64], [0, 0.73, 0.3, 0.6, 0.6, 0.7, 1, 0.58], [0, 0.66, 0.3, 0.54, 0.6, 0.64, 1, 0.52],
  [0, 0.58, 0.3, 0.47, 0.6, 0.56, 1, 0.46], [0, 0.52, 0.3, 0.4, 0.6, 0.5, 1, 0.4], [0, 0.45, 0.3, 0.35, 0.6, 0.44, 1, 0.36],
  [0, 1.18, 0.5, 1.0, 1, 0.9, 2, 0.85], [0, 1.06, 0.5, 0.92, 1, 0.83, 2, 0.79], [0, 0.97, 0.5, 0.85, 1, 0.76, 2, 0.72],
  [0, 0.9, 0.5, 0.78, 1, 0.7, 2, 0.66], [0, 0.83, 0.5, 0.7, 1, 0.64, 2, 0.6], [0, 0.76, 0.5, 0.64, 1, 0.58, 2, 0.54],
  [0, 0.69, 0.5, 0.58, 1, 0.52, 2, 0.48], [0, 0.62, 0.5, 0.52, 1, 0.47, 2, 0.42], [0, 0.55, 0.5, 0.45, 1, 0.4, 2, 0.36],
  [0, 1.0, 0.5, 1.15, 1, 1.25, 2, 1.1], [0, 0.88, 0.5, 1.02, 1, 1.12, 2, 1.0], [0, 0.78, 0.5, 0.9, 1, 1.0, 2, 0.9],
];

// ---------- styling ----------
const FONT = "'Liberation Sans', Arial, Helvetica, sans-serif";
const RED = '#E41A1C';
const BLUE = '#377EB8';
const PANEL_BG = '#EBEBEB';
const TICK_COLOR = '#4D4D4D';
const TRAJ_COLOR = 'rgba(0,0,0,0.6)';

const toPairs = (f: number[]) => {
  const r: number[][] = [];
  for (let i = 0; i < f.length; i += 2) r.push([f[i], f[i + 1]]);
  return r;
};

const PANELS = [
  {
    grid: { left: 100, top: 9, width: 535, height: 799 },
    yRange: BILI_RANGE, yTicks: BILI_TICKS, yMinor: BILI_MINOR, yInterval: 2, digits: 0,
    name: 'Serum bilirubin (log{sub|e} mg/dL)', nameGap: 64,
    lines: BILI_LINES.concat(BILI_LINES_EARLY), alive: BILI_ALIVE, dead: BILI_DEAD,
  },
  {
    grid: { left: 743, top: 8, width: 536, height: 800 },
    yRange: ALB_RANGE, yTicks: ALB_TICKS, yMinor: ALB_MINOR, yInterval: 2, digits: 0,
    name: 'Albumin (mg/dL)', nameGap: 52,
    lines: ALB_LINES.concat(ALB_LINES_EARLY), alive: ALB_ALIVE, dead: ALB_DEAD,
  },
  {
    grid: { left: 1412, top: 8, width: 530, height: 800 },
    yRange: PRO_RANGE, yTicks: PRO_TICKS, yMinor: PRO_MINOR, yInterval: 0.5, digits: 1,
    name: 'Prothrombin time (0.1 x seconds){sup|\u22124}', nameGap: 73,
    lines: PRO_LINES.concat(PRO_LINES_EARLY), alive: PRO_ALIVE, dead: PRO_DEAD,
  },
];

function buildOption() {
  const grid: any[] = [];
  const xAxis: any[] = [];
  const yAxis: any[] = [];
  const series: any[] = [];

  const fmt = (interval: number, digits: number) => (v: number) => {
    const q = v / interval;
    if (Math.abs(q - Math.round(q)) > 1e-6) return '';
    return v.toFixed(digits).replace('-', '\u2212');
  };

  PANELS.forEach((p, gi) => {
    grid.push({
      ...p.grid, show: true, backgroundColor: PANEL_BG, borderWidth: 0,
      containLabel: false, outerBoundsMode: 'none',
    });
    xAxis.push({
      gridIndex: gi, type: 'value', min: X_MIN, max: X_MAX,
      minInterval: 5, maxInterval: 5,
      axisLine: { show: false },
      axisTick: { show: true, length: 6, customValues: X_TICKS, lineStyle: { color: '#333333', width: 2 } },
      axisLabel: { customValues: X_TICKS, formatter: fmt(5, 0), color: TICK_COLOR, fontSize: 26, fontFamily: FONT, margin: 9 },
      splitLine: { show: false },
    });
    yAxis.push({
      gridIndex: gi, type: 'value', min: p.yRange[0], max: p.yRange[1],
      minInterval: p.yInterval, maxInterval: p.yInterval,
      axisLine: { show: false },
      axisTick: { show: true, length: 6, customValues: p.yTicks, lineStyle: { color: '#333333', width: 2 } },
      axisLabel: {
        customValues: p.yTicks, formatter: fmt(p.yInterval, p.digits), color: TICK_COLOR,
        fontSize: 26, lineHeight: 20, fontFamily: FONT, margin: 10,
      },
      splitLine: { show: false },
      name: p.name, nameLocation: 'middle', nameGap: p.nameGap, nameRotate: 90,
      nameTextStyle: {
        fontSize: 30, color: '#000000', fontFamily: FONT,
        rich: {
          sub: { fontSize: 20, fontFamily: FONT, color: '#000000', verticalAlign: 'bottom' },
          sup: { fontSize: 20, fontFamily: FONT, color: '#000000', verticalAlign: 'top' },
        },
      },
    });

    const [y0, y1] = p.yRange;
    const gridLine = (data: number[][], width: number) => ({
      type: 'line', xAxisIndex: gi, yAxisIndex: gi, data, symbol: 'none', showSymbol: false,
      silent: true, z: 1, lineStyle: { color: '#FFFFFF', width }, animation: false,
    });
    X_MINOR.forEach((x) => series.push(gridLine([[x, y0], [x, y1]], 1.3)));
    p.yMinor.forEach((y) => series.push(gridLine([[X_MIN, y], [X_MAX, y]], 1.3)));
    X_TICKS.forEach((x) => series.push(gridLine([[x, y0], [x, y1]], 2.5)));
    p.yTicks.forEach((y) => series.push(gridLine([[X_MIN, y], [X_MAX, y]], 2.5)));

    p.lines.forEach((f) => {
      series.push({
        type: 'line', xAxisIndex: gi, yAxisIndex: gi, data: toPairs(f),
        symbol: 'none', showSymbol: false, silent: true, z: 2,
        lineStyle: { color: TRAJ_COLOR, width: 2.4 }, animation: false,
      });
    });

    series.push({
      name: LEGEND_LABELS[0], type: 'line', xAxisIndex: gi, yAxisIndex: gi, data: p.alive,
      smooth: 0.5, symbol: 'none', showSymbol: false, silent: true, z: 3,
      lineStyle: { color: RED, width: 10 }, animation: false,
    });
    series.push({
      name: LEGEND_LABELS[1], type: 'line', xAxisIndex: gi, yAxisIndex: gi, data: p.dead,
      smooth: 0.5, symbol: 'none', showSymbol: false, silent: true, z: 3,
      lineStyle: { color: BLUE, width: 10 }, animation: false,
    });
  });

  const graphic: any[] = [
    {
      type: 'text', x: 1023, y: 866,
      style: { text: 'Time from registration (years)', fontSize: 36, fontFamily: FONT, fill: '#000000', align: 'center', verticalAlign: 'middle' },
    },
    { type: 'rect', shape: { x: 915, y: 927, width: 37, height: 40 }, style: { fill: '#F2F2F2' } },
    { type: 'line', shape: { x1: 917, y1: 944, x2: 950, y2: 944 }, style: { stroke: RED, lineWidth: 11 } },
    { type: 'text', x: 958, y: 945, style: { text: LEGEND_LABELS[0], fontSize: 28, fontFamily: FONT, fill: '#000000', align: 'left', verticalAlign: 'middle' } },
    { type: 'rect', shape: { x: 1029, y: 927, width: 37, height: 40 }, style: { fill: '#F2F2F2' } },
    { type: 'line', shape: { x1: 1031, y1: 944, x2: 1064, y2: 944 }, style: { stroke: BLUE, lineWidth: 11 } },
    { type: 'text', x: 1072, y: 945, style: { text: LEGEND_LABELS[1], fontSize: 28, fontFamily: FONT, fill: '#000000', align: 'left', verticalAlign: 'middle' } },
  ];

  return {
    animation: false,
    backgroundColor: '#FFFFFF',
    grid, xAxis, yAxis, series, graphic,
  };
}

export default function App() {
  const ref = useRef<HTMLDivElement>(null);
  useEffect(() => {
    if (!ref.current) return;
    const chart = echarts.init(ref.current, null, { renderer: 'svg' });
    chart.setOption(buildOption() as any);
    return () => chart.dispose();
  }, []);
  return (
    <div
      ref={ref}
      style={{ position: 'fixed', left: 0, top: 0, width: 1947, height: 963, background: '#FFFFFF' }}
    />
  );
}
